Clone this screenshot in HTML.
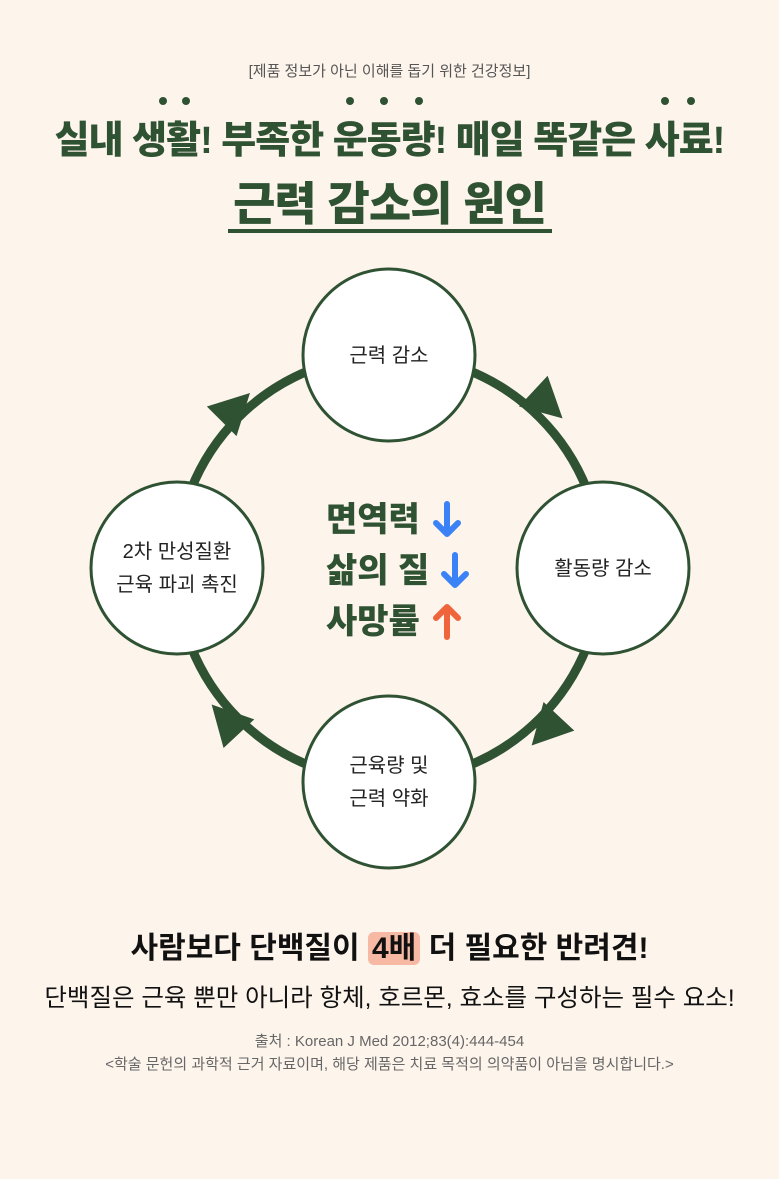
<!DOCTYPE html>
<html><head><meta charset="utf-8"><style>
body{margin:0;width:779px;height:1179px;background:#fdf4ec;font-family:"Liberation Sans","Noto Sans CJK KR",sans-serif;position:relative;overflow:hidden}
.t{position:absolute;left:0;width:779px;text-align:center;white-space:nowrap}
.g{color:#2f5233;font-weight:900}
.dot{position:absolute;width:8px;height:8px;border-radius:50%;background:#2f5233}
</style></head><body>
<div class="t" style="top:60px;font-size:15px;color:#555">[제품 정보가 아닌 이해를 돕기 위한 건강정보]</div>
<div class="t g" style="top:109px;font-size:38px;letter-spacing:-1px">실내 생활! 부족한 운동량! 매일 똑같은 사료!</div>
<div class="dot" style="left:159px;top:97px"></div><div class="dot" style="left:182px;top:97px"></div>
<div class="dot" style="left:346px;top:97px"></div><div class="dot" style="left:380px;top:97px"></div><div class="dot" style="left:415px;top:97px"></div>
<div class="dot" style="left:661px;top:97px"></div><div class="dot" style="left:687px;top:97px"></div>
<div class="t g" style="top:168px;font-size:46px;letter-spacing:-1px">근력 감소의 원인</div>
<div style="position:absolute;left:228px;top:229px;width:324px;height:4px;background:#2f5233"></div>
<svg style="position:absolute;left:0;top:0" width="779" height="1179">
<circle cx="389" cy="568" r="213" fill="none" stroke="#2f5233" stroke-width="9"/>
<g fill="#2f5233">
<polygon points="24,0 -16,-21 -16,21" transform="translate(545,402) rotate(43)"/>
<polygon points="24,0 -16,-21 -16,21" transform="translate(233,410) rotate(-45)"/>
<polygon points="24,0 -16,-21 -16,21" transform="translate(548,728) rotate(133)"/>
<polygon points="24,0 -16,-21 -16,21" transform="translate(228,722) rotate(-133)"/>
</g>
<g fill="#fff" stroke="#2f5233" stroke-width="3">
<circle cx="389" cy="355" r="86"/><circle cx="177" cy="568" r="86"/>
<circle cx="603" cy="568" r="86"/><circle cx="389" cy="782" r="86"/>
</g>
<g font-size="20" fill="#222" text-anchor="middle" font-family="Liberation Sans,Noto Sans CJK KR,sans-serif">
<text x="389" y="362">근력 감소</text>
<text x="603" y="575">활동량 감소</text>
<text x="177" y="558">2차 만성질환</text><text x="177" y="591">근육 파괴 촉진</text>
<text x="389" y="772">근육량 및</text><text x="389" y="805">근력 약화</text>
</g>
<g stroke-width="6" stroke-linecap="round" stroke-linejoin="round" fill="none">
<g stroke="#3b82f6"><path d="M447 504V533M436 523L447 534L458 523"/><path d="M455 555V584M444 574L455 585L466 574"/></g>
<g stroke="#f0643c"><path d="M447 637V608M436 618L447 607L458 618"/></g>
</g>
</svg>
<div style="position:absolute;left:326px;top:495px;font-size:34px;line-height:51px;font-weight:900;color:#2f5233;white-space:nowrap">
<div>면역력</div><div>삶의 질</div><div>사망률</div>
</div>
<div class="t" style="top:923px;font-size:30px;font-weight:bold;color:#111">사람보다 단백질이 <span style="background:#f7b9a4;border-radius:6px;padding:0 4px">4배</span> 더 필요한 반려견!</div>
<div class="t" style="top:979px;font-size:24.5px;color:#111">단백질은 근육 뿐만 아니라 항체, 호르몬, 효소를 구성하는 필수 요소!</div>
<div class="t" style="top:1030px;font-size:15px;color:#666">출처 : Korean J Med 2012;83(4):444-454</div>
<div class="t" style="top:1053px;font-size:15px;color:#666">&lt;학술 문헌의 과학적 근거 자료이며, 해당 제품은 치료 목적의 의약품이 아님을 명시합니다.&gt;</div>
</body></html>
